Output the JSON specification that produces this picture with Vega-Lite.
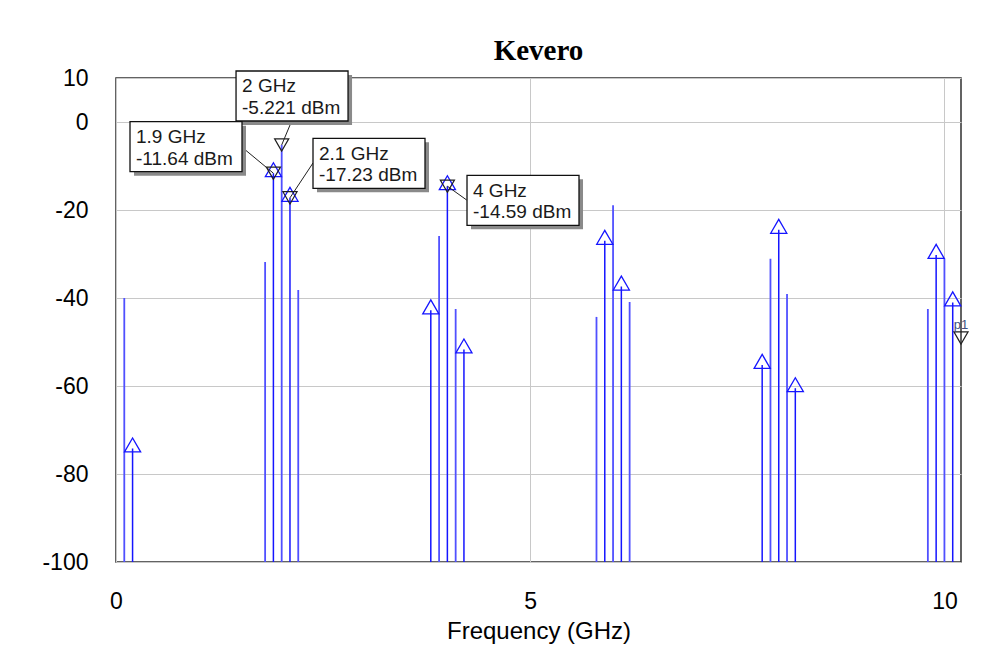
{
  "$schema": "https://vega.github.io/schema/vega-lite/v6.json",
  "autosize": "none",
  "width": 845,
  "height": 484,
  "padding": {"left": 116, "top": 78, "right": 41, "bottom": 109},
  "background": "white",
  "title": {"text": "Kevero", "font": "Liberation Serif", "fontSize": 29, "fontWeight": "bold", "color": "black", "anchor": "middle", "frame": "group", "offset": -22, "baseline": "alphabetic"},
  "config": {
    "view": {"stroke": "#303030", "strokeWidth": 1.5},
    "axis": {"labelFont": "Liberation Sans", "labelFontSize": 23, "labelColor": "black", "titleFont": "Liberation Sans", "titleFontSize": 24, "titleFontWeight": "normal", "titleColor": "black", "ticks": false, "tickSize": 0, "domain": false, "grid": true, "gridColor": "#c8c8c8", "gridWidth": 1, "labelFlush": false, "labelOverlap": false}
  },
  "datasets": {
    "spec": [
      {"f": 0.1, "p": -40.0, "s": "B"},
      {"f": 0.2, "p": -74.2, "s": "A"},
      {"f": 1.8, "p": -31.8, "s": "B"},
      {"f": 1.9, "p": -11.64, "s": "A"},
      {"f": 2.0, "p": -5.221, "s": "B"},
      {"f": 2.1, "p": -17.23, "s": "A"},
      {"f": 2.2, "p": -38.2, "s": "B"},
      {"f": 3.8, "p": -42.8, "s": "A"},
      {"f": 3.9, "p": -25.9, "s": "B"},
      {"f": 4.0, "p": -14.59, "s": "A"},
      {"f": 4.1, "p": -42.5, "s": "B"},
      {"f": 4.2, "p": -51.7, "s": "A"},
      {"f": 5.8, "p": -44.3, "s": "B"},
      {"f": 5.9, "p": -27.0, "s": "A"},
      {"f": 6.0, "p": -18.9, "s": "B"},
      {"f": 6.1, "p": -37.4, "s": "A"},
      {"f": 6.2, "p": -40.9, "s": "B"},
      {"f": 7.8, "p": -55.2, "s": "A"},
      {"f": 7.9, "p": -31.1, "s": "B"},
      {"f": 8.0, "p": -24.5, "s": "A"},
      {"f": 8.1, "p": -39.1, "s": "B"},
      {"f": 8.2, "p": -60.5, "s": "A"},
      {"f": 9.8, "p": -42.5, "s": "B"},
      {"f": 9.9, "p": -30.2, "s": "A"},
      {"f": 10.0, "p": -31.1, "s": "B"},
      {"f": 10.1, "p": -41.0, "s": "A"}
    ],
    "ann": [
      {"f": 2.0, "p": -5.221, "label": "2 GHz\n-5.221 dBm", "bx": 2.125, "by": 5.91, "ax": 2.106, "ay": -0.45},
      {"f": 1.9, "p": -11.64, "label": "1.9 GHz\n-11.64 dBm", "bx": 0.845, "by": -5.61, "ax": 1.533, "ay": -5.91},
      {"f": 2.1, "p": -17.23, "label": "2.1 GHz\n-17.23 dBm", "bx": 3.054, "by": -9.39, "ax": 2.378, "ay": -9.32},
      {"f": 4.0, "p": -14.59, "label": "4 GHz\n-14.59 dBm", "bx": 4.913, "by": -17.8, "ax": 4.233, "ay": -17.73}
    ],
    "probe": [
      {"f": 10.2, "p": -49.1, "label": "p1"}
    ]
  },
  "layer": [
    {
      "data": {"name": "spec"},
      "transform": [{"filter": "datum.s === 'B'"}],
      "mark": {"type": "rule", "color": "#5050ff", "strokeWidth": 1.8},
      "encoding": {
        "x": {"field": "f", "type": "quantitative", "scale": {"domain": [0, 10.2], "nice": false, "zero": false}, "axis": {"values": [0, 5, 10], "format": "d", "labelPadding": 28, "title": "Frequency (GHz)", "titlePadding": 6}},
        "y": {"field": "p", "type": "quantitative", "scale": {"domain": [-100, 10], "nice": false, "zero": false}, "axis": {"values": [10, 0, -20, -40, -60, -80, -100], "labelExpr": "'' + datum.value", "labelPadding": 28, "title": null}},
        "y2": {"datum": -100}
      }
    },
    {
      "data": {"name": "spec"},
      "transform": [{"filter": "datum.s === 'A'"}],
      "mark": {"type": "rule", "color": "#1515ff", "strokeWidth": 1.5},
      "encoding": {
        "x": {"field": "f", "type": "quantitative"},
        "y": {"field": "p", "type": "quantitative"},
        "y2": {"datum": -100}
      }
    },
    {
      "data": {"name": "spec"},
      "transform": [{"filter": "datum.s === 'A'"}],
      "mark": {"type": "point", "shape": "triangle-up", "size": 260, "filled": false, "stroke": "#1515ff", "strokeWidth": 1.3, "opacity": 1, "yOffset": -3.5},
      "encoding": {
        "x": {"field": "f", "type": "quantitative"},
        "y": {"field": "p", "type": "quantitative"}
      }
    },
    {
      "data": {"name": "ann"},
      "mark": {"type": "rule", "color": "#202020", "strokeWidth": 1},
      "encoding": {
        "x": {"field": "ax", "type": "quantitative"},
        "y": {"field": "ay", "type": "quantitative"},
        "x2": {"field": "f"},
        "y2": {"field": "p"}
      }
    },
    {
      "data": {"name": "ann"},
      "mark": {"type": "point", "shape": "triangle-down", "size": 200, "filled": false, "stroke": "#202020", "strokeWidth": 1.2, "opacity": 1},
      "encoding": {
        "x": {"field": "f", "type": "quantitative"},
        "y": {"field": "p", "type": "quantitative"}
      }
    },
    {
      "data": {"name": "ann"},
      "mark": {"type": "point", "shape": "M-1,-0.4464L1,-0.4464L1,0.4464L-1,0.4464Z", "size": 12544, "filled": true, "fill": "#8a8a8a", "strokeWidth": 0, "opacity": 1, "xOffset": 4, "yOffset": 4},
      "encoding": {
        "x": {"field": "bx", "type": "quantitative"},
        "y": {"field": "by", "type": "quantitative"}
      }
    },
    {
      "data": {"name": "ann"},
      "mark": {"type": "point", "shape": "M-1,-0.4464L1,-0.4464L1,0.4464L-1,0.4464Z", "size": 12544, "filled": true, "fill": "white", "stroke": "#101010", "strokeWidth": 1.3, "opacity": 1},
      "encoding": {
        "x": {"field": "bx", "type": "quantitative"},
        "y": {"field": "by", "type": "quantitative"}
      }
    },
    {
      "data": {"name": "ann"},
      "mark": {"type": "text", "font": "Liberation Sans", "fontSize": 19, "color": "#1a1a1a", "align": "left", "baseline": "middle", "lineBreak": "\n", "lineHeight": 21.5, "dx": -50, "dy": -9.5},
      "encoding": {
        "x": {"field": "bx", "type": "quantitative"},
        "y": {"field": "by", "type": "quantitative"},
        "text": {"field": "label"}
      }
    },
    {
      "data": {"name": "probe"},
      "mark": {"type": "point", "shape": "triangle-down", "size": 200, "filled": false, "stroke": "#202020", "strokeWidth": 1.2, "opacity": 1},
      "encoding": {
        "x": {"field": "f", "type": "quantitative"},
        "y": {"field": "p", "type": "quantitative"}
      }
    },
    {
      "data": {"name": "probe"},
      "mark": {"type": "text", "font": "Liberation Sans", "fontSize": 13, "color": "#405080", "align": "center", "baseline": "middle", "dy": -13},
      "encoding": {
        "x": {"field": "f", "type": "quantitative"},
        "y": {"field": "p", "type": "quantitative"},
        "text": {"field": "label"}
      }
    }
  ]
}
